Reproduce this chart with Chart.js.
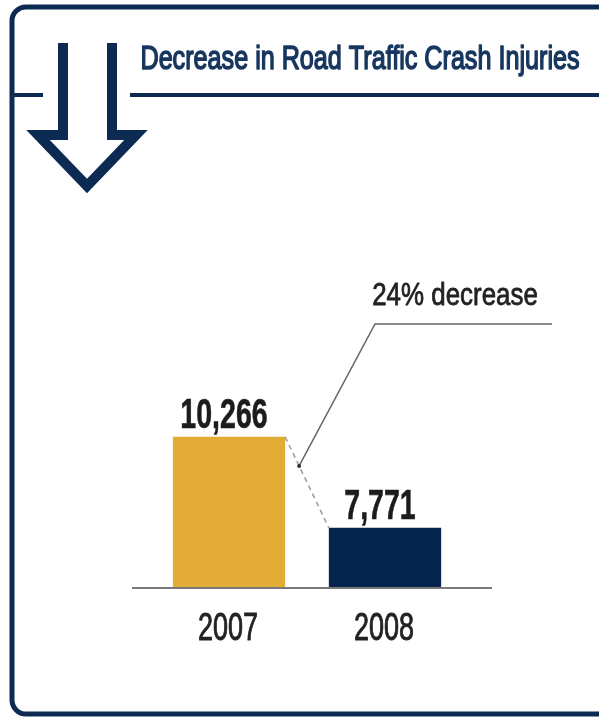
<!DOCTYPE html>
<html>
<head>
<meta charset="utf-8">
<title>Decrease in Road Traffic Crash Injuries</title>
<script src="https://cdn.jsdelivr.net/npm/chart.js@4.4.1/dist/chart.umd.min.js"></script>
<style>
    html, body { margin: 0; padding: 0; background: #ffffff; }
    canvas { display: block; }
</style>
</head>
<body>
<canvas id="crashChart" width="599" height="717"></canvas>
<script>
const chartTitle = 'Decrease in Road Traffic Crash Injuries';
const years = ['2007', '2008'];
const injuries = [10266, 7771];
const valueLabels = ['10,266', '7,771'];
const changeLabel = '24% decrease';

// the original cuts the value axis well above zero
const axisMin = 6120;
const axisMax = 14020;

const barColors = ['#E3AC36', '#05244E'];
const navy = '#0C2A52';
const darkText = '#1C1C1C';


// the picture uses a condensed face, so squeeze a normal one sideways
// (a thin stroke gives back the weight lost by squeezing)
function drawNarrowText(ctx, text, x, y, font, squeeze, color, weight) {
    ctx.save();
    ctx.font = font;
    ctx.translate(x, y);
    ctx.scale(squeeze, 1);
    ctx.fillStyle = color;
    ctx.textAlign = 'center';
    ctx.textBaseline = 'alphabetic';
    ctx.fillText(text, 0, 0);
    if (weight) {
        ctx.strokeStyle = color;
        ctx.lineWidth = weight;
        ctx.lineJoin = 'round';
        ctx.strokeText(text, 0, 0);
    }
    ctx.restore();
}


function drawFrame(ctx) {
    ctx.save();
    ctx.strokeStyle = navy;
    ctx.lineWidth = 5;
    ctx.beginPath();
    ctx.roundRect(12, 7, 620, 707, 14);
    ctx.stroke();

    // rule under the heading, broken where the arrow passes
    ctx.lineWidth = 4;
    ctx.beginPath();
    ctx.moveTo(12, 95);
    ctx.lineTo(43, 95);
    ctx.moveTo(130, 95);
    ctx.lineTo(599, 95);
    ctx.stroke();

    // open outline arrow pointing down
    ctx.lineWidth = 10;
    ctx.lineJoin = 'miter';
    ctx.beginPath();
    ctx.moveTo(63, 43);
    ctx.lineTo(63, 135);
    ctx.lineTo(38, 135);
    ctx.lineTo(87, 186);
    ctx.lineTo(136, 135);
    ctx.lineTo(112, 135);
    ctx.lineTo(112, 43);
    ctx.stroke();
    ctx.restore();

    drawNarrowText(ctx, chartTitle, 360, 69, '34px "Liberation Sans", Arial, sans-serif', 0.74, '#17375F', 1.6);
}


const framePlugin = {
    id: 'framePlugin',
    beforeDraw(chart) {
        const ctx = chart.ctx;
        ctx.save();
        ctx.fillStyle = '#ffffff';
        ctx.fillRect(0, 0, chart.width, chart.height);
        ctx.restore();
        drawFrame(ctx);
    }
};


const labelsPlugin = {
    id: 'labelsPlugin',
    afterDatasetsDraw(chart) {
        const ctx = chart.ctx;
        const bars = chart.getDatasetMeta(0).data;
        const yScale = chart.scales.y;
        const xScale = chart.scales.x;
        const base = yScale.getPixelForValue(axisMin);

        // baseline runs a little past the bars on both sides
        ctx.save();
        ctx.strokeStyle = '#7A7A7A';
        ctx.lineWidth = 2;
        ctx.beginPath();
        ctx.moveTo(132, base);
        ctx.lineTo(492, base);
        ctx.stroke();
        ctx.restore();

        bars.forEach((bar, i) => {
            drawNarrowText(ctx, valueLabels[i], bar.x - 5, bar.y - 9,
                'bold 42px "Liberation Sans", Arial, sans-serif', 0.68, darkText, 0.6);
            drawNarrowText(ctx, years[i], xScale.getPixelForValue(i) - 1, base + 52,
                '38px "Liberation Sans", Arial, sans-serif', 0.71, '#222222', 0.9);
        });

        // dashed link between the two bar tops
        const from = { x: bars[0].x + bars[0].width / 2, y: bars[0].y };
        const to = { x: bars[1].x - bars[1].width / 2, y: bars[1].y };
        ctx.save();
        ctx.strokeStyle = '#9A9A9A';
        ctx.lineWidth = 1.5;
        ctx.setLineDash([5, 4]);
        ctx.beginPath();
        ctx.moveTo(from.x, from.y);
        ctx.lineTo(to.x, to.y);
        ctx.stroke();
        ctx.restore();

        // callout leader for the percentage note
        const tip = { x: from.x + (to.x - from.x) * 0.32, y: from.y + (to.y - from.y) * 0.32 };
        ctx.save();
        ctx.strokeStyle = '#666666';
        ctx.lineWidth = 1.5;
        ctx.beginPath();
        ctx.moveTo(552, 324);
        ctx.lineTo(375, 324);
        ctx.lineTo(tip.x, tip.y);
        ctx.stroke();
        ctx.fillStyle = '#333333';
        ctx.beginPath();
        ctx.arc(tip.x, tip.y, 2, 0, Math.PI * 2);
        ctx.fill();
        ctx.restore();

        drawNarrowText(ctx, changeLabel, 455, 305, '32px "Liberation Sans", Arial, sans-serif', 0.81, '#222222', 0.8);
    }
};


new Chart(document.getElementById('crashChart'), {
    type: 'bar',
    data: {
        labels: years,
        datasets: [{
            data: injuries,
            backgroundColor: barColors,
            borderWidth: 0,
            barPercentage: 0.72,
            categoryPercentage: 1
        }]
    },
    options: {
        responsive: false,
        devicePixelRatio: 1,
        animation: false,
        layout: {
            padding: { left: 151, right: 136, top: 300, bottom: 129 }
        },
        scales: {
            x: { display: false },
            y: { display: false, min: axisMin, max: axisMax }
        },
        plugins: {
            legend: { display: false },
            tooltip: { enabled: false },
            title: { display: false }
        }
    },
    plugins: [framePlugin, labelsPlugin]
});
</script>
</body>
</html>
